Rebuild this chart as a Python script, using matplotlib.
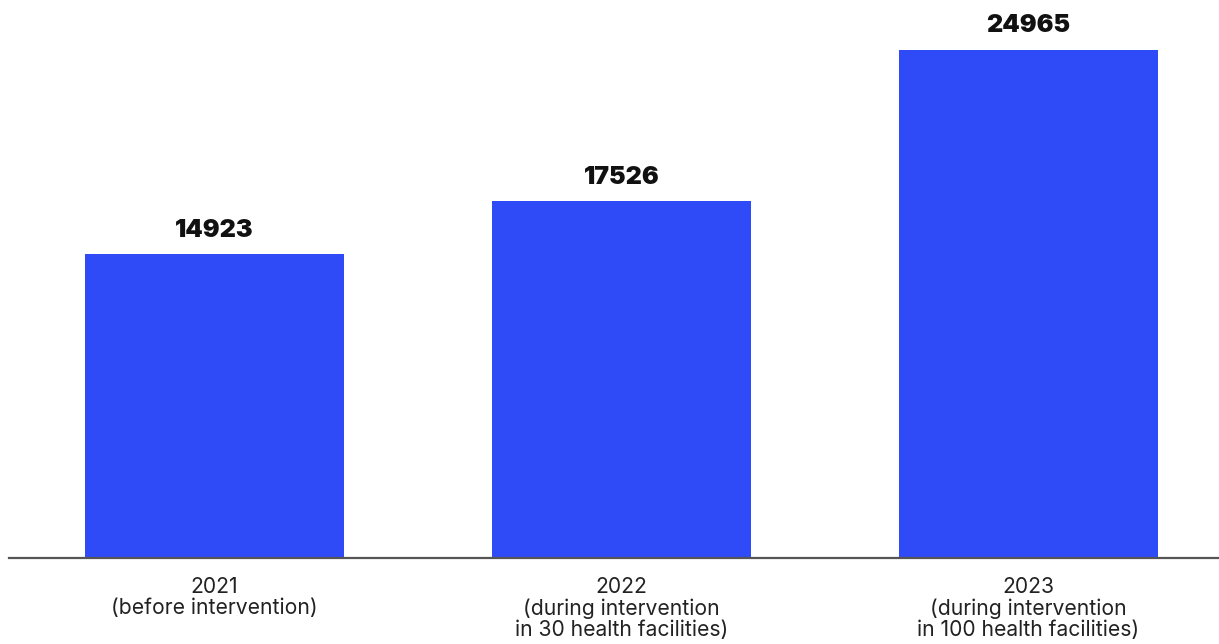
import matplotlib.pyplot as plt

# Yearly totals
years = ["2021\n(before intervention)",
         "2022\n(during intervention\nin 30 health facilities)",
         "2023\n(during intervention\nin 100 health facilities)"]
totals = [14923, 17526, 24965]

bar_color = "#2f4bf8"

fig = plt.figure(figsize=(12.19, 6.44), dpi=100)
ax = fig.add_axes([9 / 1219, 86 / 644, 1210 / 1219, 558 / 644])

pos = list(range(len(totals)))
ax.bar(pos, totals, width=0.636, color=bar_color, zorder=2)

for x, v in zip(pos, totals):
    ax.text(x, v + 620, str(v), ha="center", va="bottom",
            fontsize=18, fontweight="black", family=["Inter", "DejaVu Sans"],
            color="#111111")

ax.set_xlim(-0.505, 2.468)
ax.set_ylim(0, 27420)

for s in ["top", "right", "left"]:
    ax.spines[s].set_visible(False)
ax.spines["bottom"].set_color("#555555")
ax.spines["bottom"].set_linewidth(1.6)

ax.set_yticks([])
ax.set_xticks(pos)
ax.set_xticklabels(years, fontsize=15.2, family=["Inter", "DejaVu Sans"],
                   color="#222222", linespacing=1.05)
ax.tick_params(axis="x", length=0, pad=14)

fig.savefig("out.png", dpi=100)
